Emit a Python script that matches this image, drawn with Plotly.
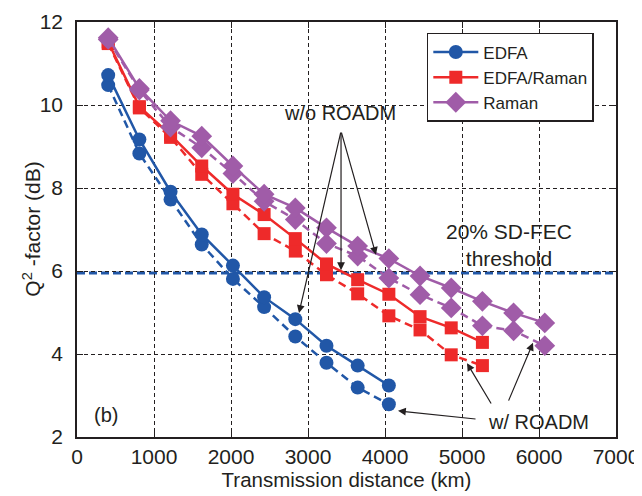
import plotly.graph_objects as go

distance = [405, 810, 1215, 1620, 2025, 2430, 2835, 3240, 3645, 4050, 4455, 4860, 5265, 5670, 6075]

edfa_wo = [10.72, 9.17, 7.91, 6.88, 6.13, 5.37, 4.84, 4.20, 3.72, 3.24]
edfa_w = [10.48, 8.83, 7.72, 6.64, 5.81, 5.13, 4.42, 3.79, 3.19, 2.79]

edfa_raman_wo = [11.52, 9.96, 9.28, 8.53, 7.85, 7.36, 6.78, 6.17, 5.79, 5.44, 4.90, 4.63, 4.28]
edfa_raman_w = [11.48, 9.93, 9.22, 8.33, 7.62, 6.90, 6.48, 5.91, 5.45, 4.92, 4.58, 3.98, 3.72]

raman_wo = [11.62, 10.40, 9.62, 9.25, 8.53, 7.85, 7.52, 7.04, 6.60, 6.30, 5.88, 5.59, 5.27, 4.99, 4.75]
raman_w = [11.58, 10.36, 9.47, 8.97, 8.35, 7.68, 7.24, 6.66, 6.36, 5.83, 5.43, 5.11, 4.68, 4.56, 4.20]

threshold = 5.95
x_ticks = [0, 1000, 2000, 3000, 4000, 5000, 6000, 7000]
y_ticks = [2, 4, 6, 8, 10, 12]

BLUE = "#2157a7"
RED = "#ee2a2a"
PURPLE = "#a05ca8"
INK = "#231f20"
FONT = "Liberation Sans, Arial, sans-serif"

fig = go.Figure()

series = [
    ("EDFA", edfa_wo, edfa_w, BLUE, "circle", 14),
    ("EDFA/Raman", edfa_raman_wo, edfa_raman_w, RED, "square", 13),
    ("Raman", raman_wo, raman_w, PURPLE, "diamond", 16),
]

for name, wo, w, color, sym, size in series:
    fig.add_trace(go.Scatter(
        x=distance[:len(w)], y=w, mode="lines+markers", name=name, showlegend=False,
        line=dict(color=color, width=2.5, dash="8px,5px"),
        marker=dict(symbol=sym, size=size, color=color),
    ))
    fig.add_trace(go.Scatter(
        x=distance[:len(wo)], y=wo, mode="lines+markers", name=name,
        line=dict(color=color, width=2.5),
        marker=dict(symbol=sym, size=size, color=color),
    ))

fig.add_hline(y=threshold, line=dict(color=BLUE, width=3, dash="8px,4px"), layer="below")

ann_font = dict(family=FONT, size=20, color=INK)
annotations = [
    dict(x=3416, y=9.81, text="w/o ROADM", showarrow=False, font=ann_font),
    dict(x=5987, y=2.36, text="w/ ROADM", showarrow=False, font=ann_font),
    dict(x=5610, y=6.63, text="20% SD-FEC<br>threshold", showarrow=False,
         font=dict(family=FONT, size=21, color=INK)),
    dict(x=377, y=2.53, text="(b)", showarrow=False, font=ann_font),
    dict(x=-0.085, y=0.5, xref="paper", yref="paper", text="Q<sup>2</sup> -factor (dB)",
         textangle=-90, showarrow=False, xanchor="center", yanchor="middle",
         font=dict(family=FONT, size=21, color=INK)),
]
arrows = [
    ((3429, 9.37), (2883, 4.99)),
    ((3429, 9.37), (3429, 6.02)),
    ((3429, 9.37), (3883, 6.39)),
    ((5195, 2.43), (4169, 2.63)),
    ((5390, 2.77), (5065, 3.78)),
    ((5597, 2.84), (5922, 4.27)),
]
for (tx, ty), (hx, hy) in arrows:
    annotations.append(dict(
        x=hx, y=hy, ax=tx, ay=ty, axref="x", ayref="y", xref="x", yref="y",
        text="", showarrow=True, arrowhead=2, arrowsize=1.3, arrowwidth=1.2,
        arrowcolor=INK, standoff=0, startstandoff=0,
    ))

axis_common = dict(
    showline=True, linecolor=INK, linewidth=1.5, mirror="ticks",
    ticks="inside", ticklen=6, tickcolor=INK,
    showgrid=True, gridcolor=INK, gridwidth=0.8, griddash="4px,3px",
    zeroline=False, automargin=False, ticklabeloverflow="allow",
    tickfont=dict(family=FONT, size=21, color=INK),
)

fig.update_layout(
    width=642, height=496,
    margin=dict(l=69, r=34, t=14, b=67),
    paper_bgcolor="white", plot_bgcolor="white",
    font=dict(family=FONT, color=INK),
    xaxis=dict(range=[0, 7000], tickvals=x_ticks,
               title=dict(text="Transmission distance (km)", font=dict(family=FONT, size=20.5), standoff=6),
               **axis_common),
    yaxis=dict(range=[2, 12], tickvals=y_ticks, ticklabelstandoff=8,
               **axis_common),
    legend=dict(x=0.649, y=0.9735, xanchor="left", yanchor="top",
                bgcolor="white", bordercolor=INK, borderwidth=1.5,
                font=dict(family=FONT, size=17, color=INK),
                itemwidth=45, entrywidth=124, tracegroupgap=0),
    annotations=annotations,
    showlegend=True,
)

fig.write_html("out.html")
